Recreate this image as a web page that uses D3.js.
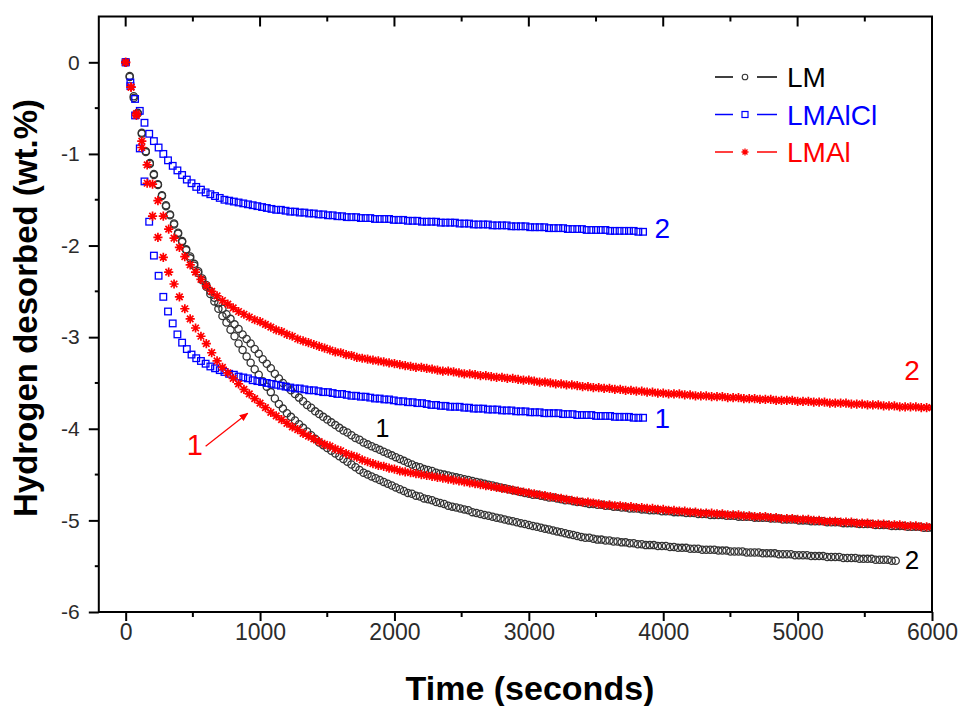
<!DOCTYPE html>
<html><head><meta charset="utf-8">
<script src="https://cdnjs.cloudflare.com/ajax/libs/d3/7.8.5/d3.min.js"></script>
<style>body{margin:0;background:#fff}</style>
</head><body><svg id="c" width="962" height="706"></svg>
<script>
// ---- data ----
const xTickValues = [0, 1000, 2000, 3000, 4000, 5000, 6000];
const yTickValues = [0, -1, -2, -3, -4, -5, -6];
const seriesNames = ["LM", "LMAlCl", "LMAl"];
const lmStep = 30, lmalStep = 40, lmalclStep = 35;   // sampling interval (s)

const lm1 = [0,-0.16,-0.39,-0.55,-0.77,-0.98,-1.11,-1.22,-1.33,-1.45,
-1.56,-1.66,-1.76,-1.86,-1.95,-2.04,-2.12,-2.20,-2.28,-2.36,
-2.43,-2.50,-2.57,-2.63,-2.69,-2.75,-2.80,-2.86,-2.91,-2.97,
-3.02,-3.07,-3.13,-3.18,-3.24,-3.29,-3.34,-3.40,-3.45,-3.50,
-3.54,-3.58,-3.62,-3.66,-3.70,-3.74,-3.77,-3.81,-3.84,-3.87,
-3.90,-3.93,-3.96,-3.99,-4.02,-4.04,-4.07,-4.10,-4.12,-4.15,
-4.17,-4.19,-4.21,-4.23,-4.25,-4.27,-4.29,-4.31,-4.33,-4.35,
-4.37,-4.39,-4.41,-4.42,-4.44,-4.45,-4.46,-4.48,-4.49,-4.50,
-4.51,-4.52,-4.53,-4.54,-4.55,-4.56,-4.57,-4.58,-4.59,-4.60,
-4.61,-4.62,-4.63,-4.64,-4.65,-4.66,-4.67,-4.68,-4.69,-4.70,
-4.71,-4.72,-4.72,-4.73,-4.74,-4.75,-4.75,-4.76,-4.77,-4.78,
-4.78,-4.79,-4.80,-4.80,-4.81,-4.82,-4.82,-4.83,-4.83,-4.84,
-4.84,-4.85,-4.85,-4.86,-4.86,-4.87,-4.87,-4.87,-4.88,-4.88,
-4.89,-4.89,-4.89,-4.90,-4.90,-4.90,-4.91,-4.91,-4.91,-4.92,
-4.92,-4.92,-4.93,-4.93,-4.93,-4.94,-4.94,-4.94,-4.94,-4.95,
-4.95,-4.95,-4.96,-4.96,-4.96,-4.96,-4.97,-4.97,-4.97,-4.97,
-4.98,-4.98,-4.98,-4.99,-4.99,-4.99,-4.99,-5.00,-5.00,-5.00,
-5.01,-5.01,-5.01,-5.01,-5.02,-5.02,-5.02,-5.02,-5.03,-5.03,
-5.03,-5.03,-5.04,-5.04,-5.04,-5.04,-5.05,-5.05,-5.05,-5.05,
-5.06,-5.06,-5.06,-5.06,-5.07,-5.07,-5.07,-5.07,-5.08,-5.08,
-5.08];

const lm2 = [0,-0.15,-0.37,-0.56,-0.78,-0.97,-1.10,-1.23,-1.34,-1.46,
-1.57,-1.67,-1.77,-1.87,-1.96,-2.05,-2.14,-2.22,-2.30,-2.38,
-2.45,-2.53,-2.61,-2.69,-2.77,-2.84,-2.92,-2.99,-3.07,-3.14,
-3.21,-3.28,-3.35,-3.41,-3.48,-3.54,-3.60,-3.67,-3.73,-3.78,
-3.83,-3.87,-3.91,-3.95,-3.99,-4.03,-4.07,-4.11,-4.15,-4.18,
-4.21,-4.24,-4.27,-4.30,-4.33,-4.36,-4.39,-4.42,-4.45,-4.48,
-4.50,-4.52,-4.54,-4.56,-4.58,-4.60,-4.62,-4.64,-4.66,-4.68,
-4.70,-4.71,-4.73,-4.74,-4.76,-4.77,-4.78,-4.80,-4.81,-4.82,
-4.84,-4.85,-4.86,-4.87,-4.88,-4.89,-4.91,-4.92,-4.93,-4.94,
-4.95,-4.96,-4.97,-4.98,-4.99,-5.00,-5.01,-5.02,-5.03,-5.04,
-5.05,-5.06,-5.07,-5.08,-5.09,-5.10,-5.11,-5.12,-5.13,-5.14,
-5.15,-5.16,-5.17,-5.18,-5.19,-5.19,-5.20,-5.21,-5.21,-5.22,
-5.22,-5.23,-5.23,-5.24,-5.24,-5.25,-5.25,-5.26,-5.26,-5.27,
-5.27,-5.27,-5.28,-5.28,-5.28,-5.29,-5.29,-5.30,-5.30,-5.30,
-5.31,-5.31,-5.31,-5.32,-5.32,-5.32,-5.32,-5.33,-5.33,-5.33,
-5.34,-5.34,-5.34,-5.34,-5.35,-5.35,-5.35,-5.35,-5.36,-5.36,
-5.36,-5.36,-5.37,-5.37,-5.37,-5.37,-5.38,-5.38,-5.38,-5.38,
-5.39,-5.39,-5.39,-5.39,-5.40,-5.40,-5.40,-5.40,-5.41,-5.41,
-5.41,-5.41,-5.42,-5.42,-5.42,-5.42,-5.43,-5.43,-5.43,-5.43,
-5.44,-5.44];

const lmalcl1 = [0,-0.26,-0.58,-0.94,-1.30,-1.74,-2.11,-2.33,-2.56,-2.72,
-2.85,-2.97,-3.06,-3.13,-3.19,-3.23,-3.26,-3.29,-3.32,-3.34,
-3.36,-3.38,-3.40,-3.41,-3.43,-3.44,-3.45,-3.47,-3.48,-3.49,
-3.50,-3.51,-3.52,-3.53,-3.54,-3.55,-3.56,-3.56,-3.57,-3.58,
-3.58,-3.59,-3.60,-3.60,-3.61,-3.62,-3.62,-3.63,-3.64,-3.64,
-3.65,-3.65,-3.66,-3.67,-3.67,-3.68,-3.68,-3.69,-3.70,-3.70,
-3.71,-3.71,-3.72,-3.72,-3.73,-3.74,-3.74,-3.75,-3.75,-3.76,
-3.76,-3.76,-3.77,-3.77,-3.78,-3.78,-3.78,-3.79,-3.79,-3.79,
-3.80,-3.80,-3.80,-3.81,-3.81,-3.81,-3.82,-3.82,-3.82,-3.83,
-3.83,-3.83,-3.83,-3.84,-3.84,-3.84,-3.85,-3.85,-3.85,-3.85,
-3.86,-3.86,-3.86,-3.86,-3.87,-3.87,-3.87,-3.87,-3.88,-3.88,
-3.88];

const lmalcl2 = [0,-0.22,-0.40,-0.53,-0.66,-0.78,-0.86,-0.93,-1.00,-1.07,
-1.13,-1.18,-1.23,-1.28,-1.32,-1.36,-1.39,-1.42,-1.44,-1.46,
-1.48,-1.50,-1.51,-1.52,-1.53,-1.54,-1.55,-1.56,-1.57,-1.58,
-1.59,-1.60,-1.61,-1.61,-1.62,-1.63,-1.63,-1.64,-1.64,-1.65,
-1.65,-1.66,-1.66,-1.67,-1.67,-1.68,-1.68,-1.69,-1.69,-1.69,
-1.70,-1.70,-1.70,-1.71,-1.71,-1.71,-1.71,-1.72,-1.72,-1.72,
-1.73,-1.73,-1.73,-1.74,-1.74,-1.74,-1.74,-1.75,-1.75,-1.75,
-1.75,-1.76,-1.76,-1.76,-1.77,-1.77,-1.77,-1.77,-1.78,-1.78,
-1.78,-1.78,-1.79,-1.79,-1.79,-1.79,-1.80,-1.80,-1.80,-1.80,
-1.81,-1.81,-1.81,-1.81,-1.82,-1.82,-1.82,-1.82,-1.83,-1.83,
-1.83,-1.83,-1.83,-1.84,-1.84,-1.84,-1.84,-1.84,-1.84,-1.85,
-1.85];

const lmal1 = [0,-0.27,-0.56,-0.93,-1.32,-1.68,-1.91,-2.13,-2.29,-2.42,
-2.56,-2.69,-2.80,-2.90,-2.99,-3.07,-3.17,-3.26,-3.33,-3.39,
-3.45,-3.51,-3.57,-3.62,-3.67,-3.72,-3.77,-3.82,-3.86,-3.90,
-3.94,-3.98,-4.01,-4.05,-4.08,-4.11,-4.14,-4.17,-4.19,-4.22,
-4.24,-4.27,-4.29,-4.31,-4.34,-4.36,-4.38,-4.40,-4.41,-4.43,
-4.44,-4.46,-4.47,-4.48,-4.49,-4.50,-4.51,-4.52,-4.53,-4.54,
-4.55,-4.56,-4.57,-4.58,-4.59,-4.60,-4.61,-4.62,-4.63,-4.64,
-4.65,-4.66,-4.67,-4.68,-4.69,-4.70,-4.71,-4.72,-4.73,-4.74,
-4.75,-4.76,-4.77,-4.78,-4.79,-4.80,-4.80,-4.81,-4.82,-4.83,
-4.83,-4.84,-4.84,-4.85,-4.85,-4.86,-4.86,-4.87,-4.87,-4.88,
-4.88,-4.89,-4.89,-4.90,-4.90,-4.91,-4.91,-4.92,-4.92,-4.92,
-4.93,-4.93,-4.94,-4.94,-4.94,-4.95,-4.95,-4.96,-4.96,-4.96,
-4.97,-4.97,-4.98,-4.98,-4.98,-4.99,-4.99,-4.99,-5.00,-5.00,
-5.01,-5.01,-5.01,-5.02,-5.02,-5.02,-5.03,-5.03,-5.03,-5.04,
-5.04,-5.04,-5.05,-5.05,-5.05,-5.06,-5.06,-5.06,-5.07,-5.07,
-5.07];

const lmal2 = [0,-0.27,-0.58,-0.86,-1.12,-1.33,-1.51,-1.68,-1.82,-1.92,
-2.02,-2.12,-2.21,-2.29,-2.37,-2.44,-2.50,-2.55,-2.60,-2.64,
-2.68,-2.72,-2.75,-2.78,-2.81,-2.83,-2.86,-2.89,-2.92,-2.94,
-2.97,-2.99,-3.02,-3.04,-3.06,-3.08,-3.10,-3.12,-3.14,-3.16,
-3.17,-3.19,-3.20,-3.22,-3.23,-3.24,-3.25,-3.26,-3.27,-3.28,
-3.29,-3.30,-3.31,-3.32,-3.33,-3.33,-3.34,-3.35,-3.36,-3.37,
-3.37,-3.38,-3.39,-3.40,-3.40,-3.41,-3.42,-3.42,-3.43,-3.44,
-3.44,-3.45,-3.45,-3.46,-3.47,-3.47,-3.48,-3.49,-3.49,-3.50,
-3.51,-3.51,-3.52,-3.52,-3.53,-3.54,-3.54,-3.55,-3.55,-3.56,
-3.56,-3.57,-3.57,-3.58,-3.58,-3.59,-3.59,-3.60,-3.60,-3.61,
-3.61,-3.62,-3.62,-3.62,-3.63,-3.63,-3.64,-3.64,-3.64,-3.65,
-3.65,-3.65,-3.66,-3.66,-3.66,-3.67,-3.67,-3.67,-3.68,-3.68,
-3.68,-3.69,-3.69,-3.69,-3.69,-3.70,-3.70,-3.70,-3.71,-3.71,
-3.71,-3.72,-3.72,-3.72,-3.72,-3.73,-3.73,-3.73,-3.74,-3.74,
-3.74,-3.75,-3.75,-3.75,-3.76,-3.76,-3.76,-3.76,-3.77,-3.77,
-3.77];

// ---- chart ----
const svg = d3.select("#c");
const L = 98.8, R = 932, T = 16.5, B = 612;
const x = d3.scaleLinear().domain([-200, 6000]).range([L, R]);
const y = d3.scaleLinear().domain([-6, 0.5]).range([B, T]);

const BLACK = "#333333", BLUE = "#0000ff", RED = "#ff0000";

svg.append("clipPath").attr("id", "clip").append("rect")
  .attr("x", L).attr("y", T).attr("width", R - L).attr("height", B - T);

const toPts = (arr, step) => arr.map((v, i) => [i * step, v]);

function starPath(r) {
  const a = r * 0.7071;
  return `M${-r},0L${r},0M0,${-r}L0,${r}M${-a},${-a}L${a},${a}M${-a},${a}L${a},${-a}`;
}

const plot = svg.append("g").attr("clip-path", "url(#clip)");

function drawCircles(data) {
  plot.append("g").selectAll("circle").data(data).join("circle")
    .attr("cx", d => x(d[0])).attr("cy", d => y(d[1])).attr("r", 3.6)
    .attr("fill", "none").attr("stroke", BLACK).attr("stroke-width", 1.3);
}
function drawSquares(data) {
  const s = 6.6;
  plot.append("g").selectAll("rect").data(data).join("rect")
    .attr("x", d => x(d[0]) - s / 2).attr("y", d => y(d[1]) - s / 2)
    .attr("width", s).attr("height", s)
    .attr("fill", "none").attr("stroke", BLUE).attr("stroke-width", 1.3);
}
function drawStars(data) {
  plot.append("g").selectAll("path").data(data).join("path")
    .attr("transform", d => `translate(${x(d[0])},${y(d[1])})`)
    .attr("d", starPath(4.6))
    .attr("fill", "none").attr("stroke", RED).attr("stroke-width", 1.7);
}

drawCircles(toPts(lm1, lmStep));
drawCircles(toPts(lm2, lmStep));
drawSquares(toPts(lmalcl1, lmalclStep));
drawSquares(toPts(lmalcl2, lmalclStep));
drawStars(toPts(lmal1, lmalStep));
drawStars(toPts(lmal2, lmalStep));

// frame
svg.append("rect").attr("x", L).attr("y", T).attr("width", R - L).attr("height", B - T)
  .attr("fill", "none").attr("stroke", "#000").attr("stroke-width", 2);

// bottom axis
const xAx = svg.append("g").attr("transform", `translate(0,${B})`)
  .call(d3.axisBottom(x).tickValues(xTickValues).tickSize(9).tickSizeOuter(0).tickPadding(3).tickFormat(d3.format("d")));
xAx.select(".domain").remove();
xAx.selectAll(".tick line").attr("stroke-width", 2);
xAx.selectAll("text").attr("font-family", "'Liberation Sans Narrow','Arial Narrow',sans-serif")
  .attr("font-size", 23).attr("fill", "#2b2b2b");
const xMinor = d3.range(500, 6000, 1000);
svg.append("g").selectAll("line").data(xMinor).join("line")
  .attr("x1", d => x(d)).attr("x2", d => x(d)).attr("y1", B).attr("y2", B + 5)
  .attr("stroke", "#000").attr("stroke-width", 2);

// top ticks (inward)
svg.append("g").selectAll("line").data(d3.range(0, 6001, 500)).join("line")
  .attr("x1", d => x(d)).attr("x2", d => x(d)).attr("y1", T)
  .attr("y2", d => T + (d % 1000 === 0 ? 10 : 5))
  .attr("stroke", "#000").attr("stroke-width", 2);

// left axis
const yAx = svg.append("g").attr("transform", `translate(${L},0)`)
  .call(d3.axisLeft(y).tickValues(yTickValues).tickSize(10).tickSizeOuter(0).tickPadding(9).tickFormat(d => d3.format("d")(d).replace("−", "-")));
yAx.select(".domain").remove();
yAx.selectAll(".tick line").attr("stroke-width", 2);
yAx.selectAll("text").attr("font-family", "'Liberation Sans',Arial,sans-serif")
  .attr("font-size", 21).attr("fill", "#2b2b2b");
svg.append("g").selectAll("line").data(d3.range(-5.5, 0.1, 1)).join("line")
  .attr("x1", L - 4).attr("x2", L).attr("y1", d => y(d)).attr("y2", d => y(d))
  .attr("stroke", "#000").attr("stroke-width", 2);

// titles
svg.append("text").attr("x", 530).attr("y", 700).attr("text-anchor", "middle")
  .attr("font-family", "'Liberation Sans',Arial,sans-serif").attr("font-weight", "bold")
  .attr("font-size", 34).attr("fill", "#000").text("Time (seconds)");
svg.append("text").attr("transform", "translate(37,308) rotate(-90)").attr("text-anchor", "middle")
  .attr("font-family", "'Liberation Sans',Arial,sans-serif").attr("font-weight", "bold")
  .attr("font-size", 33).attr("fill", "#000").text("Hydrogen desorbed (wt.%)");

// legend
const legendColors = [BLACK, BLUE, RED];
const legendTextColors = ["#000", BLUE, RED];
const lg = svg.append("g");
seriesNames.forEach((name, i) => {
  const cy = 77 + i * 37.5;
  const c = legendColors[i];
  const lc = i === 0 ? "#000" : c;
  lg.append("line").attr("x1", 715).attr("x2", 733).attr("y1", cy).attr("y2", cy).attr("stroke", lc).attr("stroke-width", 1.5);
  lg.append("line").attr("x1", 757).attr("x2", 777).attr("y1", cy).attr("y2", cy).attr("stroke", lc).attr("stroke-width", 1.5);
  if (i === 0) lg.append("circle").attr("cx", 745).attr("cy", cy).attr("r", 2.8).attr("fill", "none").attr("stroke", BLACK).attr("stroke-width", 1.1);
  if (i === 1) lg.append("rect").attr("x", 742).attr("y", cy - 3).attr("width", 6).attr("height", 6).attr("fill", "none").attr("stroke", BLUE).attr("stroke-width", 1.2);
  if (i === 2) lg.append("path").attr("transform", `translate(745,${cy})`).attr("d", starPath(3.5)).attr("stroke", RED).attr("stroke-width", 1.3);
  lg.append("text").attr("x", 787).attr("y", cy).attr("dy", "0.36em")
    .attr("font-family", "'Liberation Sans',Arial,sans-serif").attr("font-size", 28)
    .attr("fill", legendTextColors[i]).text(name);
});

// curve labels
const curveLabels = [
  {t: 3993, v: -1.81, s: "2", c: BLUE, f: 28},
  {t: 3993, v: -3.88, s: "1", c: BLUE, f: 28},
  {t: 5851, v: -3.36, s: "2", c: RED, f: 28},
  {t: 5851, v: -5.43, s: "2", c: "#000", f: 26},
  {t: 1911, v: -3.99, s: "1", c: "#000", f: 25},
  {t: 515, v: -4.17, s: "1", c: RED, f: 29}
];
svg.append("g").selectAll("text").data(curveLabels).join("text")
  .attr("x", d => x(d.t)).attr("y", d => y(d.v)).attr("dy", "0.36em").attr("text-anchor", "middle")
  .attr("font-family", "'Liberation Sans',Arial,sans-serif").attr("font-size", d => d.f)
  .attr("fill", d => d.c).text(d => d.s);

// arrow
svg.append("defs").append("marker").attr("id", "ah").attr("viewBox", "0 0 10 10")
  .attr("refX", 9).attr("refY", 5).attr("markerWidth", 9).attr("markerHeight", 9)
  .attr("orient", "auto").attr("markerUnits", "userSpaceOnUse")
  .append("path").attr("d", "M0,1L10,5L0,9Z").attr("fill", RED);
svg.append("line").attr("x1", x(595)).attr("y1", y(-4.19)).attr("x2", x(908)).attr("y2", y(-3.83))
  .attr("stroke", RED).attr("stroke-width", 1.2).attr("marker-end", "url(#ah)");
</script></body></html>
